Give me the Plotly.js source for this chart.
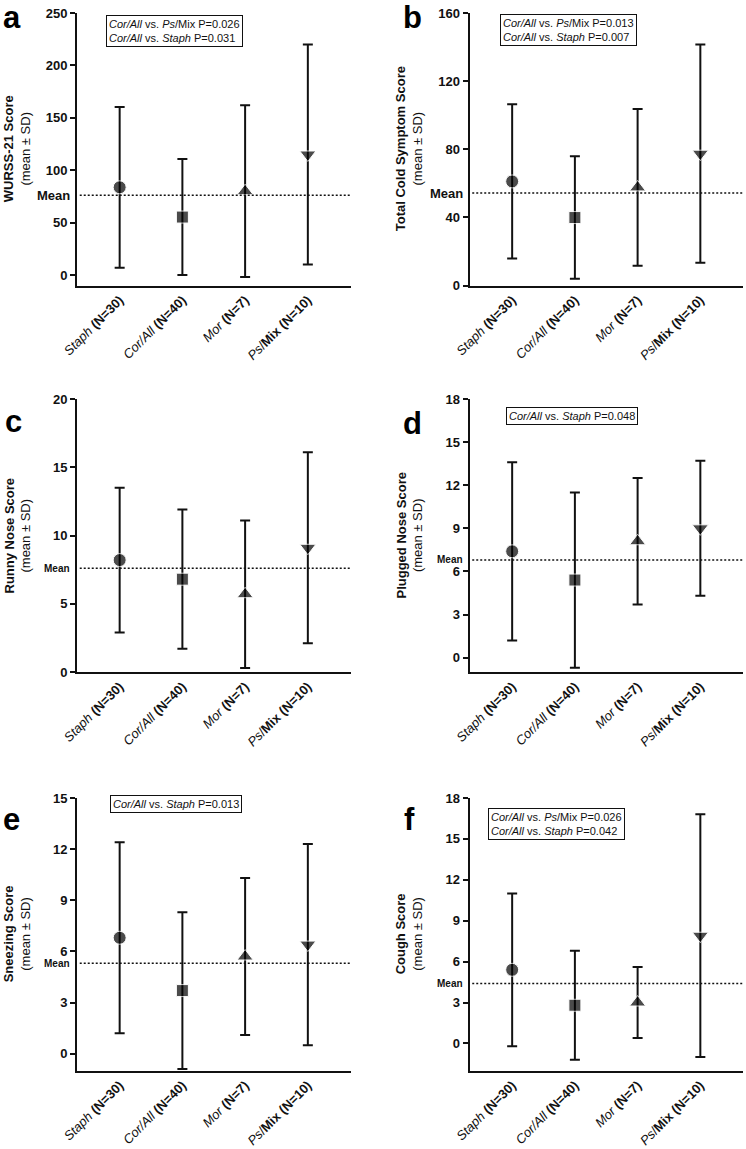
<!DOCTYPE html>
<html>
<head>
<meta charset="utf-8">
<script src="https://cdn.plot.ly/plotly-3.0.1.min.js"></script>
<style>html,body{margin:0;padding:0;background:#fff;}#chart{width:746px;height:1149px;}</style>
</head>
<body>
<div id="chart"></div>
<script>
// ---------- data ----------
const groups = ['Staph', 'Cor/All', 'Mor', 'Ps/Mix'];
const tickLabels = [
  '<i>Staph</i> <b>(N=30)</b>',
  '<i>Cor/All</i> <b>(N=40)</b>',
  '<i>Mor</i> <b>(N=7)</b>',
  '<i>Ps</i>/<b>Mix (N=10)</b>'
];
const markerSymbols = ['circle', 'square', 'triangle-up', 'triangle-down'];

const wurssMean = [83.7, 55.3, 80, 115];
const wurssSD   = [76.7, 55.3, 82, 105];
const wurssOverall = 76;

const totalMean = [61.1, 39.9, 57.6, 77.4];
const totalSD   = [45.3, 36.0, 46.0, 64.1];
const totalOverall = 54.3;

const runnyMean = [8.2, 6.8, 5.7, 9.1];
const runnySD   = [5.3, 5.1, 5.4, 7.0];
const runnyOverall = 7.6;

const pluggedMean = [7.4, 5.4, 8.1, 9.0];
const pluggedSD   = [6.2, 6.1, 4.4, 4.7];
const pluggedOverall = 6.8;

const sneezeMean = [6.8, 3.7, 5.7, 6.4];
const sneezeSD   = [5.6, 4.6, 4.6, 5.9];
const sneezeOverall = 5.3;

const coughMean = [5.4, 2.8, 3.0, 7.9];
const coughSD   = [5.6, 4.0, 2.6, 8.9];
const coughOverall = 4.4;

const panelLetters = ['a', 'b', 'c', 'd', 'e', 'f'];
const yTitles = ['WURSS-21 Score', 'Total Cold Symptom Score', 'Runny Nose Score',
                 'Plugged Nose Score', 'Sneezing Score', 'Cough Score'];
const yRanges = [[-10, 250], [0, 160], [0, 20], [-1, 18], [-1, 15], [-2, 18]];
const yDticks = [50, 40, 5, 3, 3, 3];
const pTexts = [
  '<i>Cor/All</i> vs. <i>Ps</i>/Mix P=0.026<br><i>Cor/All</i> vs. <i>Staph</i> P=0.031',
  '<i>Cor/All</i> vs. <i>Ps</i>/Mix P=0.013<br><i>Cor/All</i> vs. <i>Staph</i> P=0.007',
  '',
  '<i>Cor/All</i> vs. <i>Staph</i> P=0.048',
  '<i>Cor/All</i> vs. <i>Staph</i> P=0.013',
  '<i>Cor/All</i> vs. <i>Ps</i>/Mix P=0.026<br><i>Cor/All</i> vs. <i>Staph</i> P=0.042'
];

const means = [wurssMean, totalMean, runnyMean, pluggedMean, sneezeMean, coughMean];
const sds = [wurssSD, totalSD, runnySD, pluggedSD, sneezeSD, coughSD];
const overall = [wurssOverall, totalOverall, runnyOverall, pluggedOverall, sneezeOverall, coughOverall];

// ---------- layout geometry ----------
const W = 746, H = 1149;
const colX = [[77, 350.5], [469.5, 743]];
const rowY = [[13, 285.5], [399, 672], [798, 1070.7]];
const titleX = [17, 409];
const letterPos = [[3, 0.5], [403, 0.5], [5, 404], [403, 406], [3, 802], [404, 802]];
const pBox = [[0.106, 0.993], [0.111, 0.995], null, [0.135, 0.971], [0.12, 1.011], [0.069, 0.963]];

const FONT = 'Arial, "Liberation Sans", sans-serif';
const INK = '#111';

const data = [];
const layout = {
  width: W, height: H,
  margin: {l: 0, r: 0, t: 0, b: 0},
  paper_bgcolor: '#fff', plot_bgcolor: '#fff',
  showlegend: false,
  font: {family: FONT, color: INK},
  annotations: [], shapes: []
};

for (let p = 0; p < 6; p++) {
  const col = p % 2, row = Math.floor(p / 2);
  const sfx = p === 0 ? '' : String(p + 1);
  const xa = 'xaxis' + sfx, ya = 'yaxis' + sfx;
  const xr = 'x' + sfx, yr = 'y' + sfx;
  const big = row === 0;

  data.push({
    type: 'scatter', mode: 'markers',
    x: groups.map((g, i) => i), y: means[p],
    xaxis: xr, yaxis: yr,
    marker: {symbol: markerSymbols, size: [13, 12, 14, 14], color: '#000'},
    error_y: {type: 'data', array: sds[p], visible: true, color: INK, thickness: 2, width: 5},
    cliponaxis: false
  });

  layout[xa] = {
    domain: [colX[col][0] / W, colX[col][1] / W],
    anchor: yr, range: [-0.68, 3.68],
    showgrid: false, zeroline: false,
    showline: true, linecolor: INK, linewidth: 2,
    tickmode: 'array', tickvals: groups.map((g, i) => i), ticktext: tickLabels,
    tickangle: -45, ticks: '',
    tickfont: {family: FONT, size: 13, color: INK}
  };
  layout[ya] = {
    domain: [1 - rowY[row][1] / H, 1 - rowY[row][0] / H],
    anchor: xr, range: yRanges[p],
    showgrid: false, zeroline: false,
    showline: true, linecolor: INK, linewidth: 2,
    ticks: 'outside', ticklen: 5, tickwidth: 2, tickcolor: INK,
    tick0: 0, dtick: yDticks[p],
    tickfont: {family: FONT, size: 13, color: INK, weight: 'bold'}
  };

  // overall mean line
  layout.shapes.push({
    type: 'line', xref: xr + ' domain', yref: yr,
    x0: 0.01, x1: 1, y0: overall[p], y1: overall[p],
    line: {color: INK, width: 1.5, dash: '2px,2px'}
  });
  layout.annotations.push({
    xref: xr + ' domain', yref: yr, x: 0, y: overall[p],
    xanchor: 'right', yanchor: 'middle', xshift: -5, showarrow: false,
    text: '<b>Mean</b>', font: {family: FONT, size: big ? 13 : 10, color: INK}
  });

  // y title
  layout.annotations.push({
    xref: 'paper', yref: yr + ' domain', x: titleX[col] / W, y: 0.5,
    xanchor: 'center', yanchor: 'middle', textangle: -90, showarrow: false,
    text: '<b>' + yTitles[p] + '</b><br>(mean ± SD)',
    font: {family: FONT, size: 13, color: INK}
  });

  // panel letter
  layout.annotations.push({
    xref: 'paper', yref: 'paper', x: letterPos[p][0] / W, y: 1 - letterPos[p][1] / H,
    xanchor: 'left', yanchor: 'top', showarrow: false,
    borderpad: 0, borderwidth: 0,
    text: '<b>' + panelLetters[p] + '</b>',
    font: {family: FONT, size: 31, color: '#000'}
  });

  // p-value box
  if (pTexts[p]) {
    layout.annotations.push({
      xref: xr + ' domain', yref: yr + ' domain', x: pBox[p][0], y: pBox[p][1],
      xanchor: 'left', yanchor: 'top', align: 'left', showarrow: false,
      text: pTexts[p], bgcolor: '#fff', bordercolor: INK, borderwidth: 1, borderpad: 2,
      font: {family: FONT, size: 11, color: INK}
    });
  }
}

Plotly.newPlot('chart', data, layout, {staticPlot: true, displayModeBar: false});
</script>
</body>
</html>
